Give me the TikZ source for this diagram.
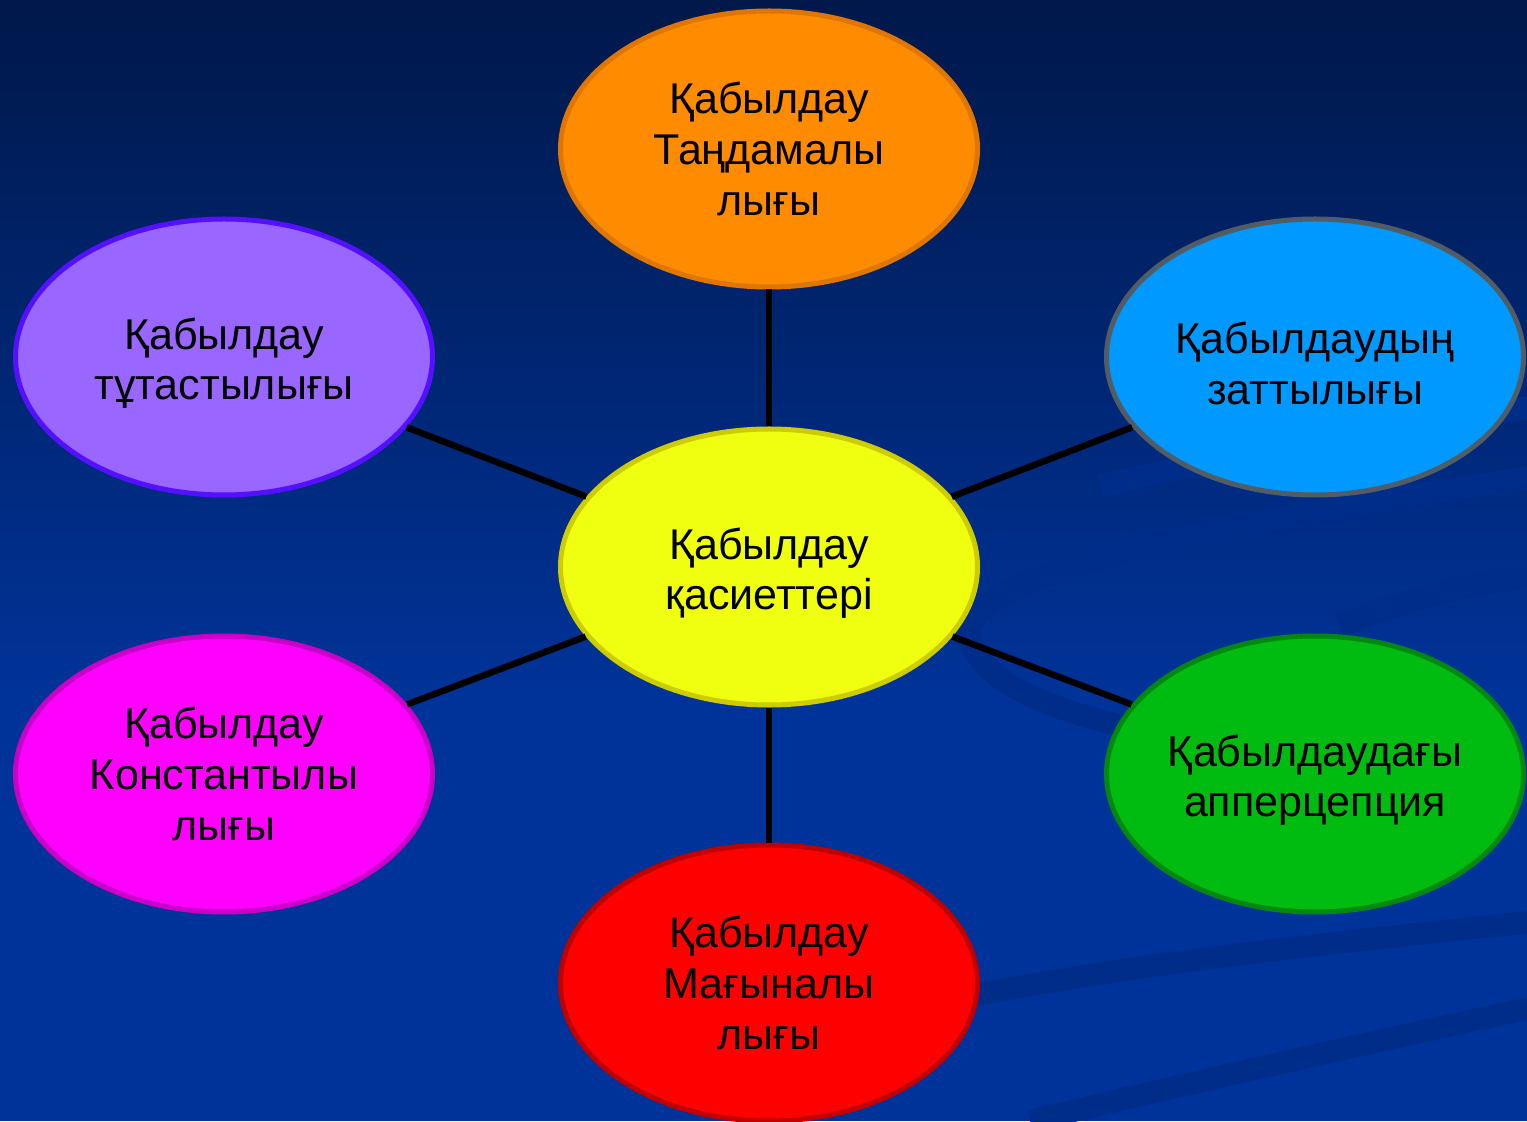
\documentclass[tikz,border=0pt]{standalone}
\usepackage{fontspec}
\setmainfont{Liberation Sans}
\usetikzlibrary{shapes.geometric}

\begin{document}
\begin{tikzpicture}[
	oval/.style={ellipse, draw, line width=0.1cm, minimum width=8.34cm, minimum height=5.52cm,
		inner sep=0pt, align=center, text=black, font=\fontsize{24.5}{29}\selectfont},
	link/.style={line width=0.13cm, color=black},
	swoosh/.style={line width=0.45cm, color=bgband}]
	\definecolor{bgtop}{RGB}{0,24,74}
	\definecolor{bgblue}{RGB}{0,51,153}
	\definecolor{bgband}{RGB}{0,45,138}
	\definecolor{yelfill}{RGB}{240,255,16}
	\definecolor{yelline}{RGB}{204,204,0}
	\definecolor{orfill}{RGB}{255,140,0}
	\definecolor{orline}{RGB}{222,118,0}
	\definecolor{vifill}{RGB}{153,102,255}
	\definecolor{viline}{RGB}{85,17,255}
	\definecolor{skyfill}{RGB}{0,153,255}
	\definecolor{skyline}{RGB}{82,92,100}
	\definecolor{magfill}{RGB}{255,0,255}
	\definecolor{magline}{RGB}{200,0,200}
	\definecolor{grfill}{RGB}{0,187,16}
	\definecolor{grline}{RGB}{0,136,17}
	\definecolor{rdfill}{RGB}{255,0,0}
	\definecolor{rdline}{RGB}{192,0,0}

	\useasboundingbox (0,0) rectangle (30.54,22.42);
	\fill[bgblue] (0,0) rectangle (30.54,8.5);
	\shade[top color=bgtop, bottom color=bgblue] (0,8.4) rectangle (30.54,22.42);

	% faint bands in the background
	\begin{scope}
		\clip (0,0) rectangle (30.54,22.42);
		\draw[swoosh] (30.8,12.9) .. controls (24,11.9) and (19,10.9) .. (19.4,9.6) .. controls (19.8,8.5) and (21.8,8.0) .. (23.8,7.6);
		\draw[swoosh] (26.8,9.9) .. controls (28,10.4) and (29.5,10.8) .. (30.8,10.9);
		\draw[swoosh] (19.4,2.5) .. controls (23,3.2) and (27,3.6) .. (30.8,4.0);
		\draw[swoosh] (20.6,0) .. controls (24,0.8) and (27.5,1.6) .. (30.8,2.3);
		\draw[swoosh] (22,12.7) .. controls (25,13.4) and (28,13.9) .. (30.8,14.3);
	\end{scope}

	\node[oval, fill=yelfill, draw=yelline] (mid) at (15.38,11.08) {\rule{0pt}{25pt}Қабылдау\\қасиеттері};
	\node[oval, fill=orfill, draw=orline] (sel) at (15.38,19.44) {Қабылдау\\Таңдамалы\\лығы};
	\node[oval, fill=vifill, draw=viline] (whole) at (4.48,15.28) {\rule{0pt}{25pt}Қабылдау\\тұтастылығы};
	\node[oval, fill=skyfill, draw=skyline] (obj) at (26.30,15.28) {\rule{0pt}{25pt}Қабылдаудың\\заттылығы};
	\node[oval, fill=magfill, draw=magline] (const) at (4.48,6.94) {Қабылдау\\Константылы\\лығы};
	\node[oval, fill=grfill, draw=grline] (apper) at (26.30,6.94) {\rule{0pt}{25pt}Қабылдаудағы\\апперцепция};
	\node[oval, fill=rdfill, draw=rdline] (mean) at (15.38,2.76) {Қабылдау\\Мағыналы\\лығы};

	\draw[link] (mid) -- (sel);
	\draw[link] (mid) -- (whole);
	\draw[link] (mid) -- (obj);
	\draw[link] (mid) -- (const);
	\draw[link] (mid) -- (apper);
	\draw[link] (mid) -- (mean);
\end{tikzpicture}
\end{document}
